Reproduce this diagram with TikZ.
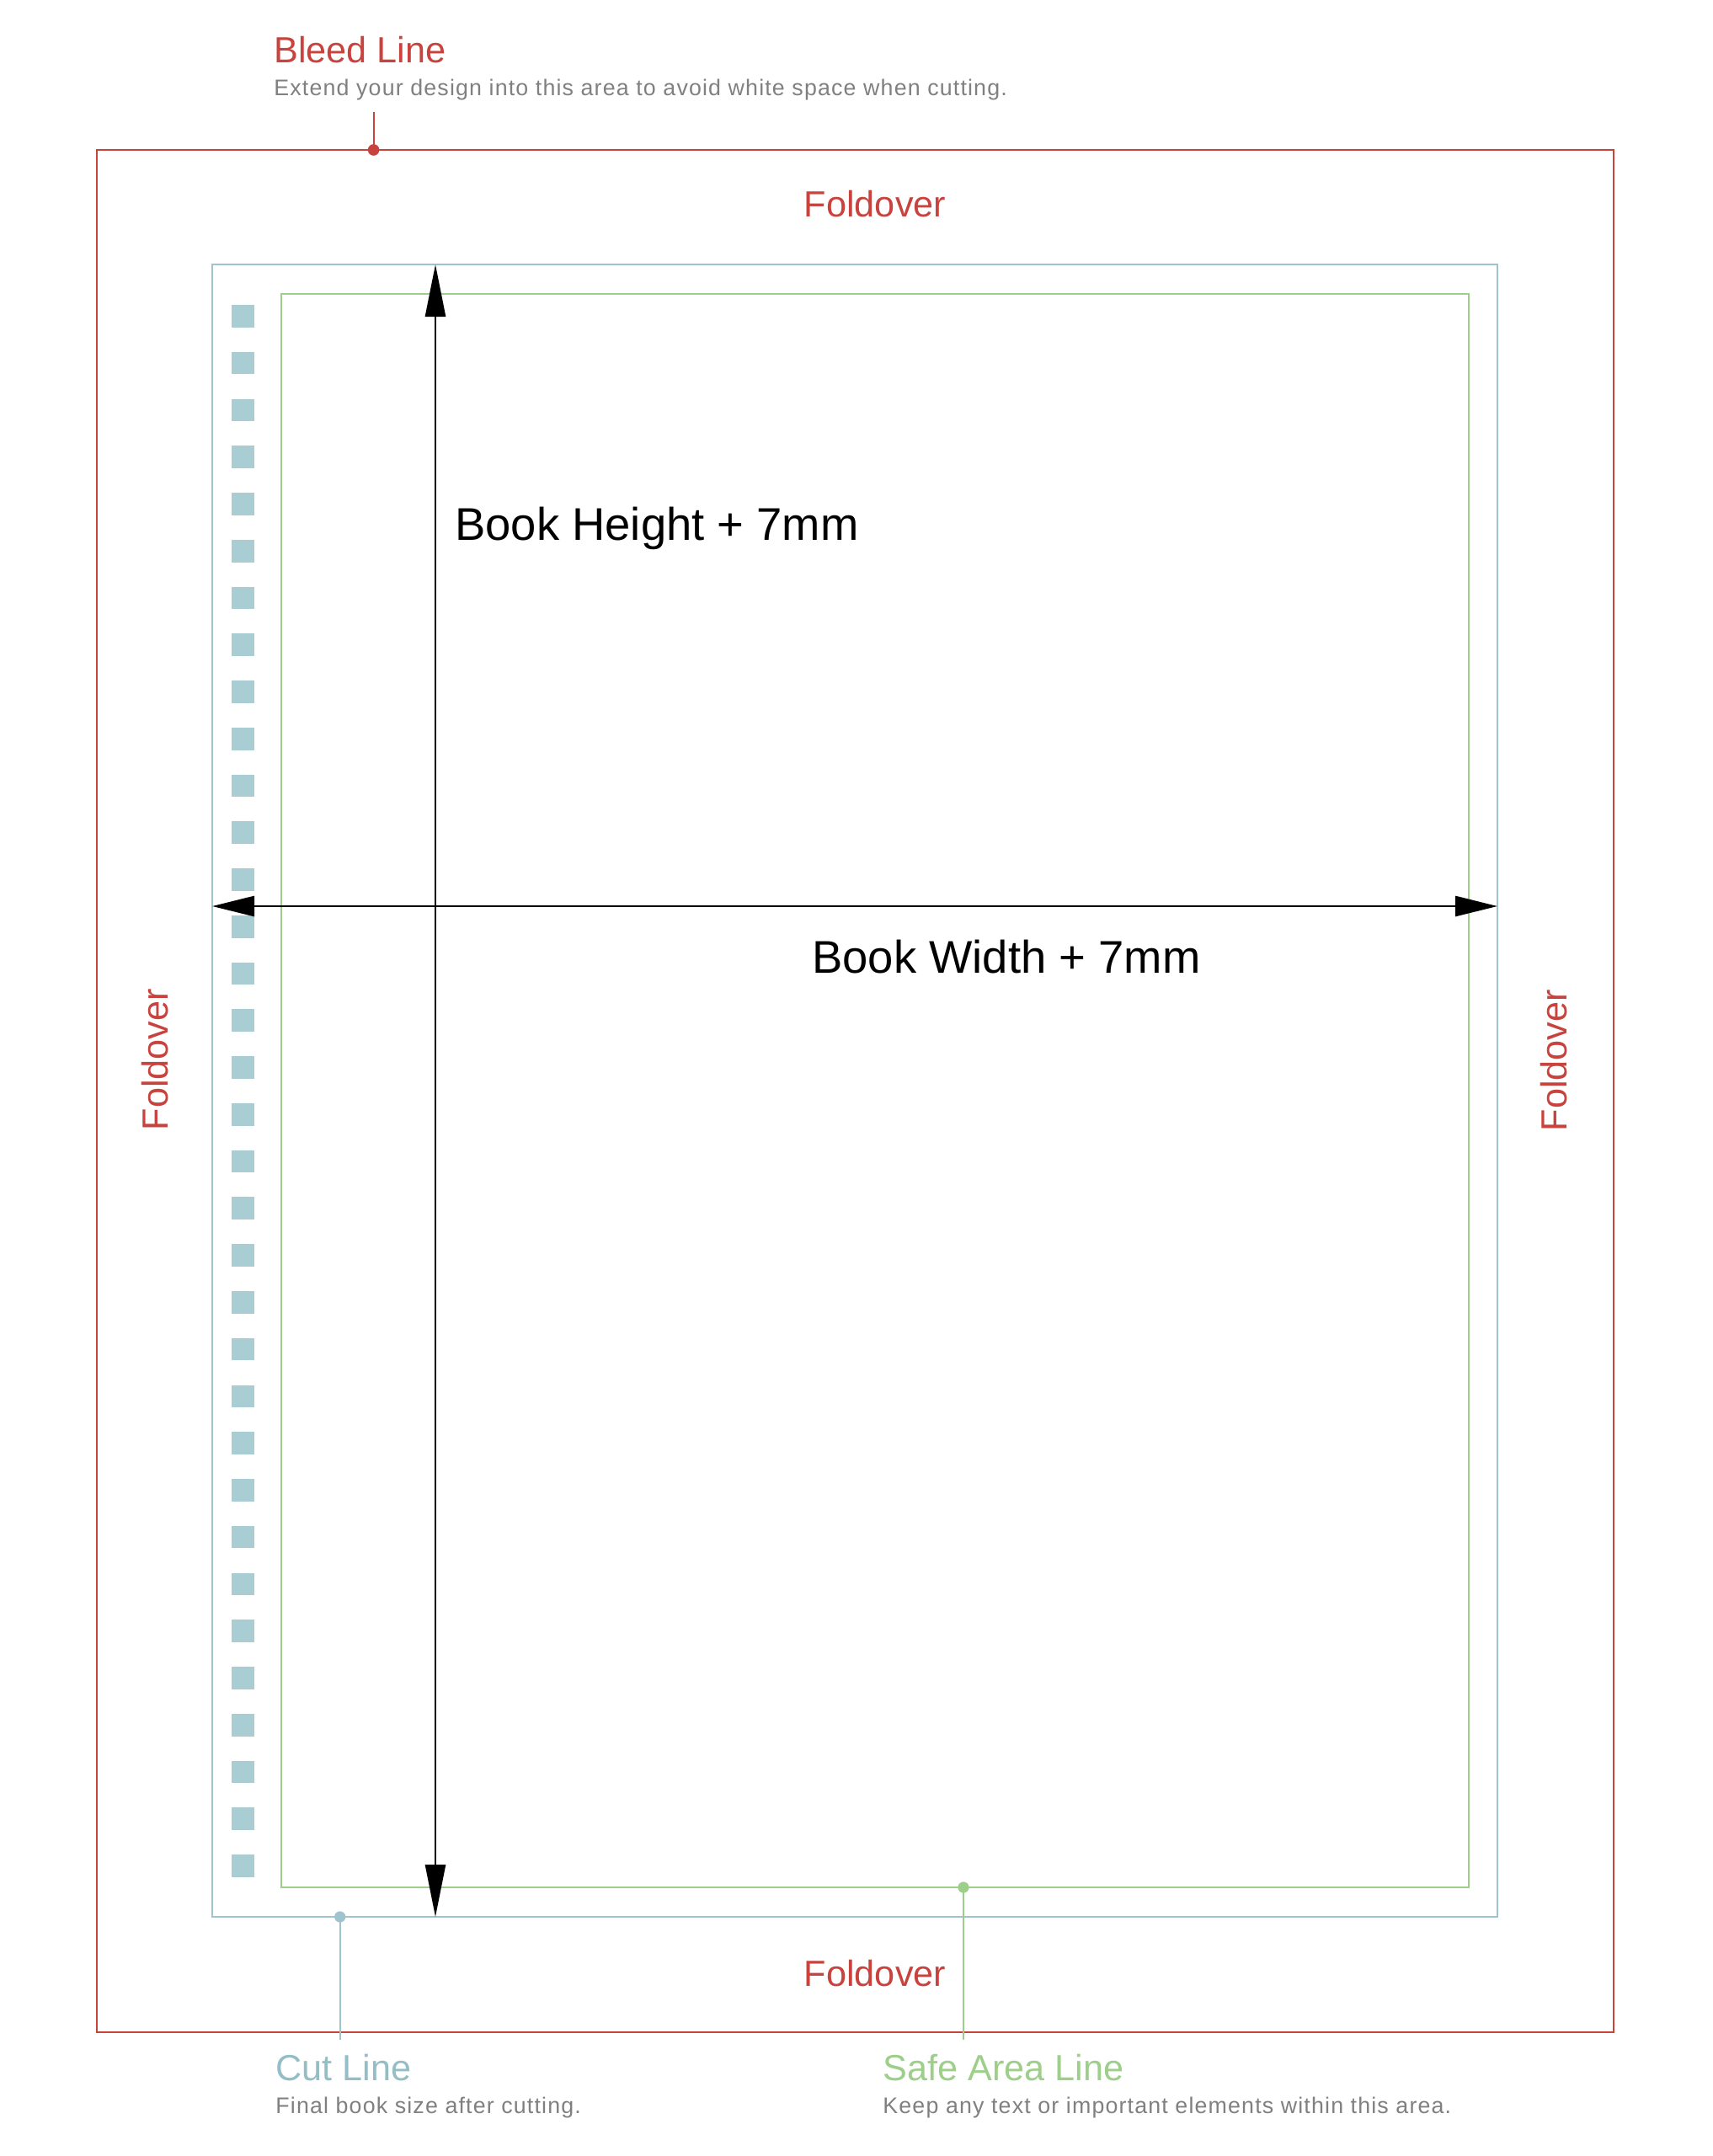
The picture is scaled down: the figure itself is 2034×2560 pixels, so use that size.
\documentclass[tikz,border=0pt]{standalone}
\usepackage{fontspec}
\setmainfont{Liberation Sans}
\newfontfamily\notefont[LetterSpace=4.3]{Liberation Sans}
\usepackage{tikz}
\usetikzlibrary{arrows.meta}

\definecolor{bleedred}{RGB}{200,66,62}
\definecolor{cutblue}{RGB}{160,196,205}
\definecolor{cuttext}{RGB}{148,189,198}
\definecolor{holeblue}{RGB}{168,205,211}
\definecolor{safegreen}{RGB}{157,206,138}
\definecolor{notegrey}{RGB}{128,128,128}

\tikzset{
  redline/.style={bleedred,line width=1pt},
  cutframe/.style={cutblue,line width=1pt},
  safeframe/.style={safegreen,line width=1pt},
  title/.style={inner sep=0pt,anchor=base west,font=\fontsize{21.6}{26}\selectfont},
  note/.style={inner sep=0pt,anchor=base west,text=notegrey,font=\notefont\fontsize{13.4}{16}\selectfont},
  fold/.style={inner sep=0pt,anchor=base,text=bleedred,font=\fontsize{21.6}{26}\selectfont},
  dims/.style={inner sep=0pt,anchor=base west,font=\fontsize{27.2}{32}\selectfont},
  vdim/.style={line width=1.35pt,{Triangle[length=31pt,width=12pt]}-{Triangle[length=31pt,width=12pt]}},
  hdim/.style={line width=1.35pt,{Triangle[length=25pt,width=12pt]}-{Triangle[length=25pt,width=12pt]}}
}

\begin{document}
\begin{tikzpicture}[x=0.5pt,y=-0.5pt]
 \useasboundingbox (0,0) rectangle (2034,2560);

 % bleed, cut and safe frames
 \draw[redline] (115,178) rectangle (1916,2413);
 \draw[cutframe] (252,314) rectangle (1778,2276);
 \draw[safeframe] (334,349) rectangle (1744,2241);

 % holes along the spine
 \foreach \i in {0,...,33}
   \fill[holeblue] (275,362+55.76*\i) rectangle ++(26.7,26.7);

 % book size arrows
 \coordinate (htop) at (517,314);
 \coordinate (hbot) at (517,2276);
 \draw[vdim] (htop) -- (hbot);
 \coordinate (wleft) at (252,1076);
 \coordinate (wright) at (1778,1076);
 \draw[hdim] (wleft) -- (wright);
 \node[dims] (bookheight) at (540,641) {Book Height + 7mm};
 \node[dims] (bookwidth) at (964,1155) {Book Width + 7mm};

 % foldover labels
 \node[fold] (foldtop) at (1039,257) {Foldover};
 \node[fold] (foldbot) at (1039,2358) {Foldover};
 \node[fold,rotate=90] (foldleft) at (199,1258) {Foldover};
 \node[fold,rotate=90] (foldright) at (1860,1259) {Foldover};

 % bleed line label
 \node[title,text=bleedred] (bleed) at (325,74) {Bleed Line};
 \node[note] (bleednote) at (325,113) {Extend your design into this area to avoid white space when cutting.};
 \coordinate (bleedend) at (443.6,133);
 \coordinate (bleeddot) at (443.6,178);
 \draw[bleedred,line width=1pt] (bleedend) -- (bleeddot);
 \fill[bleedred] (bleeddot) circle (3.4pt);

 % cut line label
 \node[title,text=cuttext] (cut) at (327,2470) {Cut Line};
 \node[note] (cutnote) at (327,2509.5) {Final book size after cutting.};
 \coordinate (cutdot) at (403.7,2276);
 \coordinate (cutend) at (403.7,2422);
 \draw[cutframe] (cutdot) -- (cutend);
 \fill[cutblue] (cutdot) circle (3.3pt);

 % safe area label
 \node[title,text=safegreen] (safe) at (1048,2470) {Safe Area Line};
 \node[note] (safenote) at (1048,2509.5) {Keep any text or important elements within this area.};
 \coordinate (safedot) at (1144,2241);
 \coordinate (safeend) at (1144,2422);
 \draw[safeframe] (safedot) -- (safeend);
 \fill[safegreen] (safedot) circle (3.3pt);

\end{tikzpicture}
\end{document}
